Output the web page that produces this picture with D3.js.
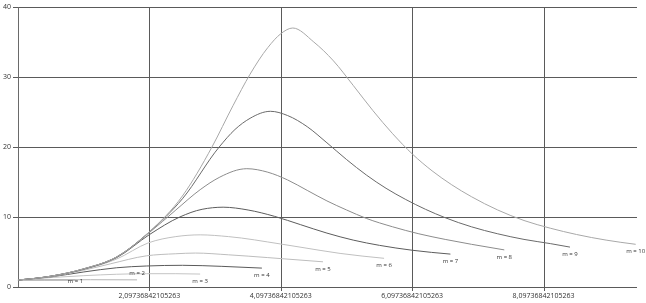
<!DOCTYPE html>
<html>
<head>
<meta charset="utf-8">
<script src="https://cdn.jsdelivr.net/npm/d3@7"></script>
<style>
  body { margin: 0; background: #fff; }
  svg { will-change: transform; }
  text { font-family: "Open Sans", "DejaVu Sans", sans-serif; fill: #333; }
</style>
</head>
<body>
<div id="chart"></div>
<script>
// values, [x, y]
const m1 = [[0.097,1.0],[0.5,1.0],[0.97,1.0]];
const m2 = [[0.097,1.0],[0.6,1.03],[1.2,1.04],[1.91,1.02]];
const m3 = [[0.097,1.0],[0.6,1.35],[1.1,1.62],[1.6,1.82],[2.05,1.9],[2.5,1.9],[2.87,1.85]];
const m4 = [[0.097,1.0],[0.6,1.45],[1.1,2.15],[1.6,2.75],[2.05,3.0],[2.6,3.1],[3.2,2.95],[3.81,2.7]];
const m5 = [[0.097,1.0],[0.6,1.5],[1.1,2.4],[1.5,3.3],[2.05,4.45],[2.5,4.75],[2.8,4.85],[3.3,4.6],[3.9,4.2],[4.39,3.85],[4.74,3.6]];
const m6 = [[0.097,1.0],[0.6,1.52],[1.1,2.5],[1.6,4.0],[2.08,6.3],[2.5,7.2],[2.87,7.45],[3.3,7.2],[4.09,6.15],[4.39,5.7],[5.0,4.8],[5.67,4.1]];
const m7 = [[0.097,1.0],[0.6,1.55],[1.1,2.55],[1.6,4.2],[2.1,7.5],[2.56,10.0],[2.9,11.1],[3.22,11.4],[3.6,11.0],[4.0,10.1],[4.4,8.9],[4.8,7.7],[5.2,6.7],[5.6,5.95],[6.1,5.25],[6.68,4.7]];
const m8 = [[0.097,1.0],[0.6,1.55],[1.1,2.6],[1.6,4.3],[2.1,7.8],[2.5,11.0],[2.87,13.9],[3.17,15.7],[3.58,16.9],[3.9,16.4],[4.2,15.3],[4.5,13.8],[4.8,12.3],[5.1,11.0],[5.4,9.8],[5.8,8.6],[6.2,7.6],[6.6,6.8],[7.0,6.1],[7.5,5.3]];
const m9 = [[0.097,1.0],[0.6,1.55],[1.1,2.6],[1.6,4.3],[2.1,7.9],[2.6,12.6],[3.16,20.0],[3.4,22.5],[3.63,24.1],[3.94,25.1],[4.2,24.5],[4.5,22.9],[4.8,20.6],[5.1,18.2],[5.4,16.0],[5.7,14.1],[6.0,12.5],[6.3,11.1],[6.6,9.9],[7.0,8.6],[7.4,7.6],[7.8,6.8],[8.2,6.2],[8.5,5.7]];
const m10 = [[0.097,1.0],[0.6,1.55],[1.1,2.6],[1.6,4.3],[2.1,7.9],[2.6,13.0],[3.05,20.0],[3.37,25.9],[3.63,30.4],[3.9,34.2],[4.1,36.2],[4.28,37.0],[4.6,35.0],[4.9,32.3],[5.2,28.8],[5.5,25.2],[5.8,21.9],[6.1,19.0],[6.4,16.6],[6.7,14.6],[7.0,12.9],[7.4,11.0],[7.8,9.5],[8.2,8.4],[8.6,7.5],[9.05,6.7],[9.5,6.1]];

const seriesNames = ["m = 1","m = 2","m = 3","m = 4","m = 5","m = 6","m = 7","m = 8","m = 9","m = 10"];
const xTicks = [2.09736842105263, 4.09736842105263, 6.09736842105263, 8.09736842105263];
const xTickLabels = ["2,09736842105263","4,09736842105263","6,09736842105263","8,09736842105263"];
const yTicks = [0, 10, 20, 30, 40];

const allSeries = [m1, m2, m3, m4, m5, m6, m7, m8, m9, m10];
const colors = ["#8a8a8a","#b4b4b4","#c4c4c4","#5a5a5a","#bdbdbd","#c0c0c0","#5c5c5c","#8c8c8c","#6a6a6a","#a8a8a8"];
const labelShift = [1, -7, 7, 7, 7, 7, 7, 7, 7, 7]; // px below the line end

const width = 646, height = 303;
const margin = {top: 7, right: 9, bottom: 16, left: 18};
const innerWidth = width - margin.left - margin.right;
const innerHeight = height - margin.top - margin.bottom;

const svg = d3.select("#chart")
    .append("svg")
    .attr("width", width)
    .attr("height", height)
    .append("g")
    .attr("transform", `translate(${margin.left},${margin.top})`);

const x = d3.scaleLinear().domain([0.0973684210526, 9.52]).range([0, innerWidth]);
const y = d3.scaleLinear().domain([0, 40]).range([innerHeight, 0]);

// grid
svg.selectAll(".hgrid")
    .data(yTicks)
    .join("line")
    .attr("x1", -5).attr("x2", innerWidth)
    .attr("y1", d => Math.round(y(d)) + 0.5).attr("y2", d => Math.round(y(d)) + 0.5)
    .attr("stroke", "#5a5a5a");

svg.selectAll(".vgrid")
    .data(xTicks)
    .join("line")
    .attr("x1", d => Math.round(x(d)) + 0.5).attr("x2", d => Math.round(x(d)) + 0.5)
    .attr("y1", 0).attr("y2", innerHeight + 4)
    .attr("stroke", "#5a5a5a");

svg.append("line")
    .attr("x1", 0.5).attr("x2", 0.5)
    .attr("y1", 0).attr("y2", innerHeight)
    .attr("stroke", "#6a6a6a");

// tick labels
svg.selectAll(".ylab")
    .data(yTicks)
    .join("text")
    .attr("x", -7)
    .attr("y", d => y(d))
    .attr("dy", "0.35em")
    .attr("text-anchor", "end")
    .style("font-size", "7px")
    .text(d => d);

svg.selectAll(".xlab")
    .data(xTicks)
    .join("text")
    .attr("x", d => x(d))
    .attr("y", innerHeight + 11)
    .attr("text-anchor", "middle")
    .style("font-size", "7px")
    .text((d, i) => xTickLabels[i]);

// curves
const line = d3.line()
    .x(d => x(d[0]))
    .y(d => y(d[1]))
    .curve(d3.curveMonotoneX);

svg.selectAll(".curve")
    .data(allSeries)
    .join("path")
    .attr("d", line)
    .attr("fill", "none")
    .attr("stroke", (d, i) => colors[i])
    .attr("stroke-width", 1);

svg.selectAll(".mlab")
    .data(allSeries)
    .join("text")
    .attr("x", d => x(d[d.length - 1][0]))
    .attr("y", (d, i) => y(d[d.length - 1][1]) + labelShift[i])
    .attr("dy", "0.35em")
    .attr("text-anchor", "middle")
    .style("font-size", "6px")
    .text((d, i) => seriesNames[i]);
</script>
</body>
</html>
